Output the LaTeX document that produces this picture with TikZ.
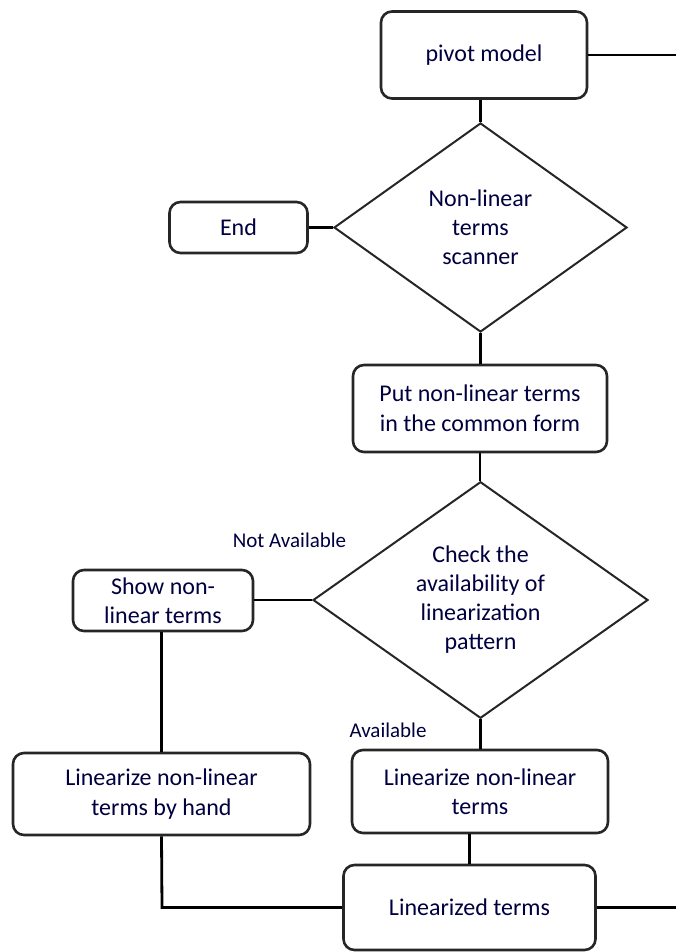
\documentclass[tikz,border=0pt]{standalone}
\usepackage{fontspec}
\setmainfont{Carlito}
\usetikzlibrary{shapes.geometric}
\begin{document}
\begin{tikzpicture}[x=1pt,y=-1pt,
  box/.style={draw=black!85, line width=2.6pt, rounded corners=11pt, fill=white,
    inner sep=0pt, align=center, font=\fontsize{24}{29.5}\selectfont, text=black!75!blue},
  decision/.style={draw=black!85, diamond, line width=2pt, inner sep=0pt, align=center,
    font=\fontsize{24}{29}\selectfont, text=black!75!blue},
  conn/.style={draw=black, line width=2.8pt},
  lbl/.style={font=\fontsize{21}{25}\selectfont, text=black!75!blue, inner sep=0pt}]
\useasboundingbox (0,0) rectangle (676,952);
% boxes
\node[box, minimum width=206pt, minimum height=87pt] (pv) at (484,55) {pivot model};
\node[decision, minimum width=293pt, minimum height=209pt] (d1) at (480.5,227.5) {Non-linear\\terms\\scanner};
\node[box, minimum width=138pt, minimum height=51pt] (end) at (238.5,227.5) {End};
\node[box, minimum width=254pt, minimum height=87pt] (put) at (480,408.5) {Put non-linear terms\\in the common form};
\node[decision, minimum width=335pt, minimum height=234pt] (d2) at (480.5,600) {Check the\\availability of\\linearization\\pattern};
\node[box, minimum width=180pt, minimum height=61pt] (show) at (163,600.5) {Show non-\\linear terms};
\node[box, minimum width=297pt, minimum height=82pt] (hand) at (161.5,794) {Linearize non-linear\\terms by hand};
\node[box, minimum width=256pt, minimum height=83pt] (lin) at (480,791.5) {Linearize non-linear\\terms};
\node[box, minimum width=252pt, minimum height=85pt] (res) at (469.5,907.5) {Linearized terms};
% labels
\node[lbl] (na) at (289.5,540) {Not Available};
\node[lbl] (av) at (388,730) {Available};
% free ends
\coordinate (pvout) at (676,55);
\coordinate (resout) at (676,907.5);
\coordinate (corner) at (162,907.5);
% connectors
\draw[conn] (pv.east) -- (pvout);
\draw[conn] (d1.north) -- (d1.north |- pv.south);
\draw[conn] (d1.west) -- (end.east);
\draw[conn] (d1.south) -- (d1.south |- put.north);
\draw[conn] (put.south) -- (put.south |- d2.north);
\draw[conn] (d2.west) -- (show.east |- d2.west);
\draw[conn] (show.south -| hand.north) -- (hand.north);
\draw[conn] (d2.south) -- (d2.south |- lin.north);
\draw[conn] (lin.south -| res.north) -- (res.north);
\draw[conn] (hand.south) -- (corner) -- (res.west);
\draw[conn] (res.east) -- (resout);
\end{tikzpicture}
\end{document}
